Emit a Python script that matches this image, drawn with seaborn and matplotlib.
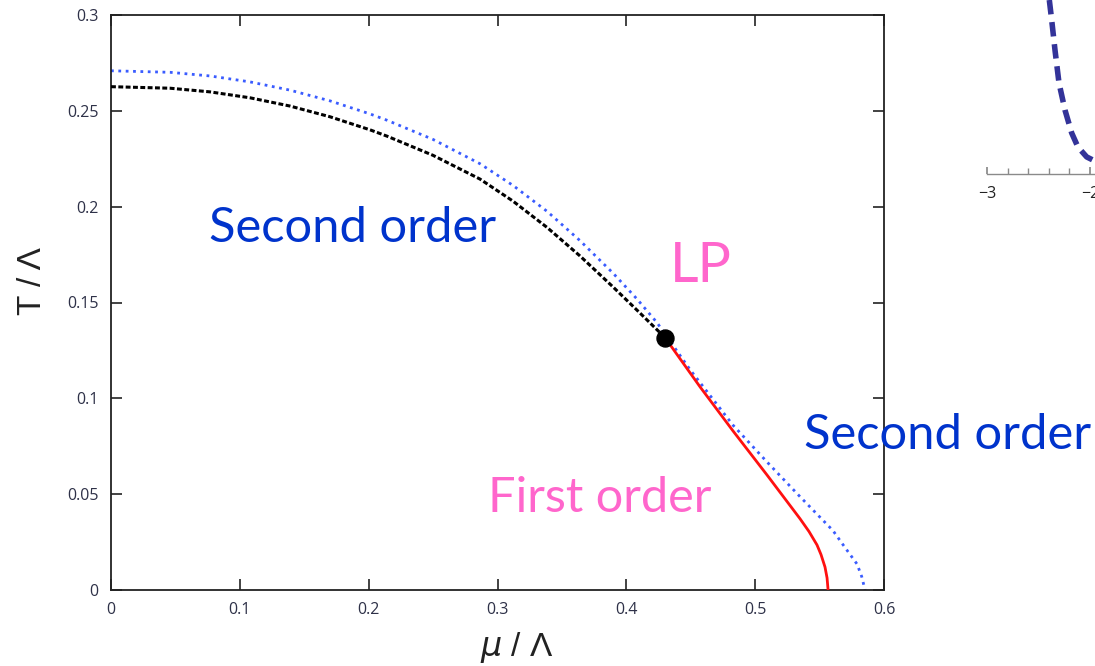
import matplotlib
matplotlib.use("Agg")
import matplotlib.pyplot as plt
import seaborn as sns
from matplotlib.ticker import MultipleLocator

# Phase boundary data (mu/Lambda, T/Lambda)
mu_second = [0.0, 0.0458, 0.0768, 0.1079, 0.1389, 0.1700, 0.2010, 0.2142,
             0.2499, 0.2864, 0.3120, 0.3384, 0.3640, 0.3897, 0.4106, 0.4300]
T_second = [0.2626, 0.2618, 0.2599, 0.2568, 0.2525, 0.2469, 0.2401, 0.2368,
            0.2268, 0.2144, 0.2029, 0.1892, 0.1743, 0.1581, 0.1445, 0.1317]

mu_dotted = [0.0, 0.0458, 0.0768, 0.1079, 0.1389, 0.1700, 0.2010, 0.2142,
             0.2499, 0.2864, 0.3120, 0.3384, 0.3640, 0.3897, 0.4083, 0.4238,
             0.4494, 0.4828, 0.5092, 0.5348, 0.5604, 0.5697, 0.5791, 0.5827,
             0.5853]
T_dotted = [0.2709, 0.2701, 0.2682, 0.2651, 0.2608, 0.2552, 0.2484, 0.2451,
            0.2351, 0.2224, 0.2111, 0.1976, 0.1823, 0.1653, 0.1518, 0.1395,
            0.1150, 0.0860, 0.0668, 0.0487, 0.0310, 0.0222, 0.0135, 0.0070,
            0.0000]

mu_first = [0.4300, 0.4572, 0.4828, 0.5092, 0.5348, 0.5418, 0.5480, 0.5511,
            0.5542, 0.5558, 0.5566]
T_first = [0.1317, 0.1060, 0.0830, 0.0600, 0.0372, 0.0305, 0.0235, 0.0185,
           0.0120, 0.0063, 0.0000]

mu_lp = [0.4300]
T_lp = [0.1317]

x_ticks = [0, 0.1, 0.2, 0.3, 0.4, 0.5, 0.6]
x_tick_labels = ["0", "0.1", "0.2", "0.3", "0.4", "0.5", "0.6"]
y_ticks = [0, 0.05, 0.1, 0.15, 0.2, 0.25, 0.3]
y_tick_labels = ["0", "0.05", "0.1", "0.15", "0.2", "0.25", "0.3"]

# Side panel curve
side_x = [-2.395, -2.372, -2.340, -2.301, -2.243, -2.178, -2.117, -2.032, -1.971]
side_y = [1.0, 0.885, 0.713, 0.523, 0.368, 0.236, 0.155, 0.098, 0.080]

sns.set_theme(style="ticks")
plt.rcParams["font.family"] = ["Open Sans", "DejaVu Sans"]
plt.rcParams["mathtext.fontset"] = "dejavusans"

fig = plt.figure(figsize=(10.95, 6.66), dpi=100)
W, H = 1095, 666
ax = fig.add_axes([111 / W, (H - 590) / H, 773 / W, 575 / H])

sns.lineplot(x=mu_dotted, y=T_dotted, ax=ax, color="#3a5cff", lw=2.0,
             linestyle=":", estimator=None, zorder=2)
sns.lineplot(x=mu_second, y=T_second, ax=ax, color="black", lw=2.2,
             linestyle=(0, (1.6, 0.8)), estimator=None, zorder=3)
sns.lineplot(x=mu_first, y=T_first, ax=ax, color="#ff1010", lw=2.0,
             estimator=None, zorder=3)
sns.scatterplot(x=mu_lp, y=T_lp, ax=ax, s=150, color="black",
                edgecolor="black", zorder=5)

ax.set_xlim(0, 0.6)
ax.set_ylim(0, 0.3)
ax.set_xticks(x_ticks, x_tick_labels)
ax.set_yticks(y_ticks, y_tick_labels)
ax.tick_params(direction="in", length=8, width=1.2, color="#222222",
               top=True, right=True, labelsize=11.5, labelcolor="#2e3148",
               pad=9)
for sp in ax.spines.values():
    sp.set_visible(True)
    sp.set_linewidth(1.3)
    sp.set_color("#222222")

ax.set_xlabel("$\\mu$ / Λ", fontsize=24, family=["Liberation Sans", "DejaVu Sans"],
              color="#222222")
ax.set_ylabel("T / Λ", fontsize=24, family=["Liberation Sans", "DejaVu Sans"],
              color="#222222")
ax.xaxis.set_label_coords(0.525, -0.07)
ax.yaxis.set_label_coords(-0.082, 0.537)

label_font = ["Lato", "DejaVu Sans"]
blue = "#0033cc"
pink = "#ff66cc"
ax.text(0.0761, 0.1814, "Second order", color=blue, fontsize=35.2,
        family=label_font, va="baseline", ha="left")
ax.text(0.2926, 0.0408, "First order", color=pink, fontsize=35,
        family=label_font, va="baseline", ha="left")
ax.text(0.4336, 0.1605, "LP", color=pink, fontsize=40,
        family=label_font, va="baseline", ha="left")
ax.text(0.5379, 0.0737, "Second order", color=blue, fontsize=35.2,
        family=label_font, va="baseline", ha="left", clip_on=False, zorder=6)

# Partial side panel at the top right
ax2 = fig.add_axes([987 / W, (H - 174) / H, 309 / W, 174 / H])
sns.lineplot(x=side_x, y=side_y, ax=ax2, color="#333399", lw=4.0,
             linestyle=(0, (2.6, 1.4)), estimator=None)
ax2.set_xlim(-3, 0)
ax2.set_ylim(0, 1)
for k in ("top", "left", "right"):
    ax2.spines[k].set_visible(False)
ax2.spines["bottom"].set_color("#8a8a8a")
ax2.spines["bottom"].set_linewidth(1.0)
ax2.set_yticks([])
ax2.xaxis.set_major_locator(MultipleLocator(1))
ax2.xaxis.set_minor_locator(MultipleLocator(0.2))
ax2.xaxis.set_major_formatter(lambda v, p: f"\u2212{abs(int(round(v)))}" if v < 0 else f"{int(round(v))}")
ax2.tick_params(axis="x", which="both", direction="in", color="#8a8a8a",
                labelsize=11.5, labelcolor="#222222", pad=9)
ax2.tick_params(axis="x", which="major", length=5)
ax2.tick_params(axis="x", which="minor", length=4)
ax2.patch.set_alpha(0)
ax2.set_xlabel("")
ax2.set_ylabel("")

fig.savefig("out.png", dpi=100)
